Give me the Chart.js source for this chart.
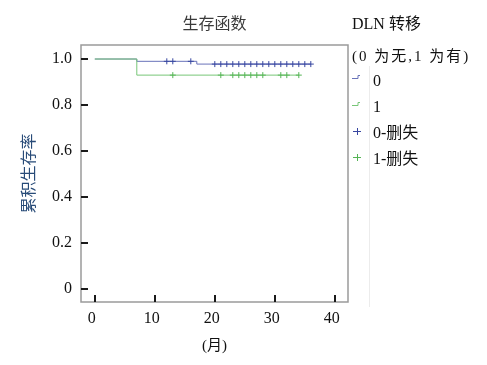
<!DOCTYPE html>
<html><head><meta charset="utf-8">
<script src="https://cdn.jsdelivr.net/npm/chart.js@4/dist/chart.umd.min.js"></script>
<style>html,body{margin:0;padding:0;background:#fff}#wrap{width:487px;height:365px}</style>
</head><body><div id="wrap"><canvas id="c" width="487" height="365"></canvas></div>
<script>
// ---- data ----
const months0 = [0, 7, 17, 36];
const surv0   = [1.0, 0.99, 0.978, 0.978];
const months1 = [0, 7, 34];
const surv1   = [1.0, 0.93, 0.93];
const censor0 = [12, 13, 16, 20, 21, 22, 23, 24, 25, 26, 27, 28, 29, 30, 31, 32, 33, 34, 35, 36];
const censor1 = [13, 21, 23, 24, 25, 26, 27, 28, 31, 32, 34];
const xTicks = [0, 10, 20, 30, 40];
const yTicks = [0, 0.2, 0.4, 0.6, 0.8, 1.0];
const yTickLabels = ['0', '0.2', '0.4', '0.6', '0.8', '1.0'];
const chartTitle = '生存函数';
const xTitle = '(月)';
const yTitle = '累积生存率';
const legendTitle = 'DLN 转移';
const legendSub = '(0 为无,1 为有)';
const legendLabels = ['0', '1', '0-删失', '1-删失'];

const BLUE = 'rgb(105,115,185)';
const BLUE_MARK = 'rgb(55,70,160)';
const GREEN = 'rgb(120,198,120)';
const GREEN_MARK = 'rgb(85,180,85)';
const SERIF = '"Liberation Serif", "Noto Sans CJK SC", serif';

function survAt(ms, ss, t) {
  let v = ss[0];
  for (let i = 0; i < ms.length; i++) if (ms[i] <= t) v = ss[i];
  return v;
}
const line0 = months0.map((m, i) => ({x: m, y: surv0[i]}));
const line1 = months1.map((m, i) => ({x: m, y: surv1[i]}));
const pts0 = censor0.map(t => ({x: t, y: survAt(months0, surv0, t)}));
const pts1 = censor1.map(t => ({x: t, y: survAt(months1, surv1, t)}));

const framePlugin = {
  id: 'frame',
  beforeDatasetsDraw(chart) {
    const {ctx, chartArea: a, scales: {x, y}} = chart;
    ctx.save();
    ctx.strokeStyle = '#9a9a9a';
    ctx.lineWidth = 1.5;
    ctx.strokeRect(a.left, a.top, a.right - a.left, a.bottom - a.top);
    ctx.strokeStyle = '#1a1a1a';
    ctx.lineWidth = 2;
    ctx.beginPath();
    xTicks.forEach(v => { const px = Math.round(x.getPixelForValue(v)); ctx.moveTo(px, a.bottom); ctx.lineTo(px, a.bottom - 7); });
    yTicks.forEach(v => { const py = Math.round(y.getPixelForValue(v)); ctx.moveTo(a.left, py); ctx.lineTo(a.left + 7, py); });
    ctx.stroke();
    // faint legend separator
    ctx.strokeStyle = '#ececec';
    ctx.lineWidth = 1;
    ctx.beginPath(); ctx.moveTo(369.5, 66); ctx.lineTo(369.5, 307); ctx.stroke();
    ctx.restore();
  },
  afterDraw(chart) {
    const {ctx} = chart;
    ctx.save();
    ctx.fillStyle = '#111';
    ctx.textBaseline = 'middle';
    ctx.textAlign = 'left';
    ctx.font = '16px ' + SERIF;
    ctx.fillText(legendTitle, 352, 25);
    ctx.font = '15px ' + SERIF;
    ctx.letterSpacing = '2px';
    ctx.fillText(legendSub, 352, 57);
    ctx.letterSpacing = '0px';
    const ys = [82, 108, 134, 160];
    ctx.font = '16px ' + SERIF;
    legendLabels.forEach((t, i) => ctx.fillText(t, 373, ys[i]));
    const sx = 357;
    ctx.lineWidth = 1;
    // step icons
    [[BLUE, ys[0] - 4], [GREEN, ys[1] - 3]].forEach(([c, yy]) => {
      ctx.strokeStyle = c;
      ctx.beginPath();
      ctx.moveTo(sx - 5, yy + 0.5); ctx.lineTo(sx + 1, yy + 0.5); ctx.lineTo(sx + 1, yy - 2.5); ctx.lineTo(sx + 3, yy - 2.5);
      ctx.stroke();
    });
    [[BLUE_MARK, ys[2] - 3], [GREEN_MARK, ys[3] - 3]].forEach(([c, yy]) => {
      ctx.strokeStyle = c;
      ctx.beginPath();
      ctx.moveTo(sx - 4, yy + 0.5); ctx.lineTo(sx + 4, yy + 0.5);
      ctx.moveTo(sx + 0.5, yy - 3); ctx.lineTo(sx + 0.5, yy + 4);
      ctx.stroke();
    });
    ctx.restore();
  }
};

new Chart(document.getElementById('c'), {
  data: {
    datasets: [
      {type: 'line', label: '0', data: line0, stepped: 'before', borderColor: BLUE, borderWidth: 1, pointRadius: 0, fill: false, order: 3},
      {type: 'line', label: '1', data: line1, stepped: 'before', borderColor: GREEN, borderWidth: 1, pointRadius: 0, fill: false, order: 2},
      {type: 'scatter', label: '0-删失', data: pts0, pointStyle: 'cross', pointRadius: 3, borderColor: BLUE_MARK, backgroundColor: BLUE_MARK, borderWidth: 1, order: 1},
      {type: 'scatter', label: '1-删失', data: pts1, pointStyle: 'cross', pointRadius: 3, borderColor: GREEN_MARK, backgroundColor: GREEN_MARK, borderWidth: 1, order: 0}
    ]
  },
  options: {
    responsive: false,
    animation: false,
    devicePixelRatio: 1,
    layout: {padding: {left: 0, top: 0, right: 139, bottom: 0}},
    plugins: {
      legend: {display: false},
      tooltip: {enabled: false},
      title: {display: true, text: chartTitle, fullSize: false, color: '#3a3a3a',
        font: {family: SERIF, size: 16, weight: 'normal', lineHeight: 1.2},
        padding: {top: 15.4, bottom: 10.4}}
    },
    scales: {
      x: {
        type: 'linear', position: 'bottom', min: -2.3, max: 42.2,
        afterBuildTicks: s => { s.ticks = xTicks.map(v => ({value: v})); },
        afterFit: s => { s.height = 63; },
        grid: {display: false, drawTicks: false},
        border: {display: false},
        ticks: {color: '#111', padding: 7, labelOffset: -3, maxRotation: 0, autoSkip: false,
          font: {family: SERIF, size: 16}, callback: v => String(v)},
        title: {display: true, text: xTitle, color: '#111', font: {family: SERIF, size: 15, lineHeight: 1.2}, padding: {top: 4, bottom: 10}}
      },
      y: {
        type: 'linear', min: -0.057, max: 1.061,
        afterBuildTicks: s => { s.ticks = yTicks.map(v => ({value: v})); },
        afterFit: s => { s.width = 81; },
        grid: {display: false, drawTicks: false},
        border: {display: false},
        ticks: {color: '#111', padding: 9, autoSkip: false,
          font: {family: SERIF, size: 16},
          callback: v => yTickLabels[yTicks.findIndex(t => Math.abs(t - v) < 1e-9)]},
        title: {display: true, text: yTitle, color: 'rgb(40,75,120)', font: {family: '"Noto Sans CJK SC", sans-serif', size: 16, lineHeight: 1.2}, padding: {top: 18, bottom: 0}}
      }
    }
  },
  plugins: [framePlugin]
});
</script></body></html>
